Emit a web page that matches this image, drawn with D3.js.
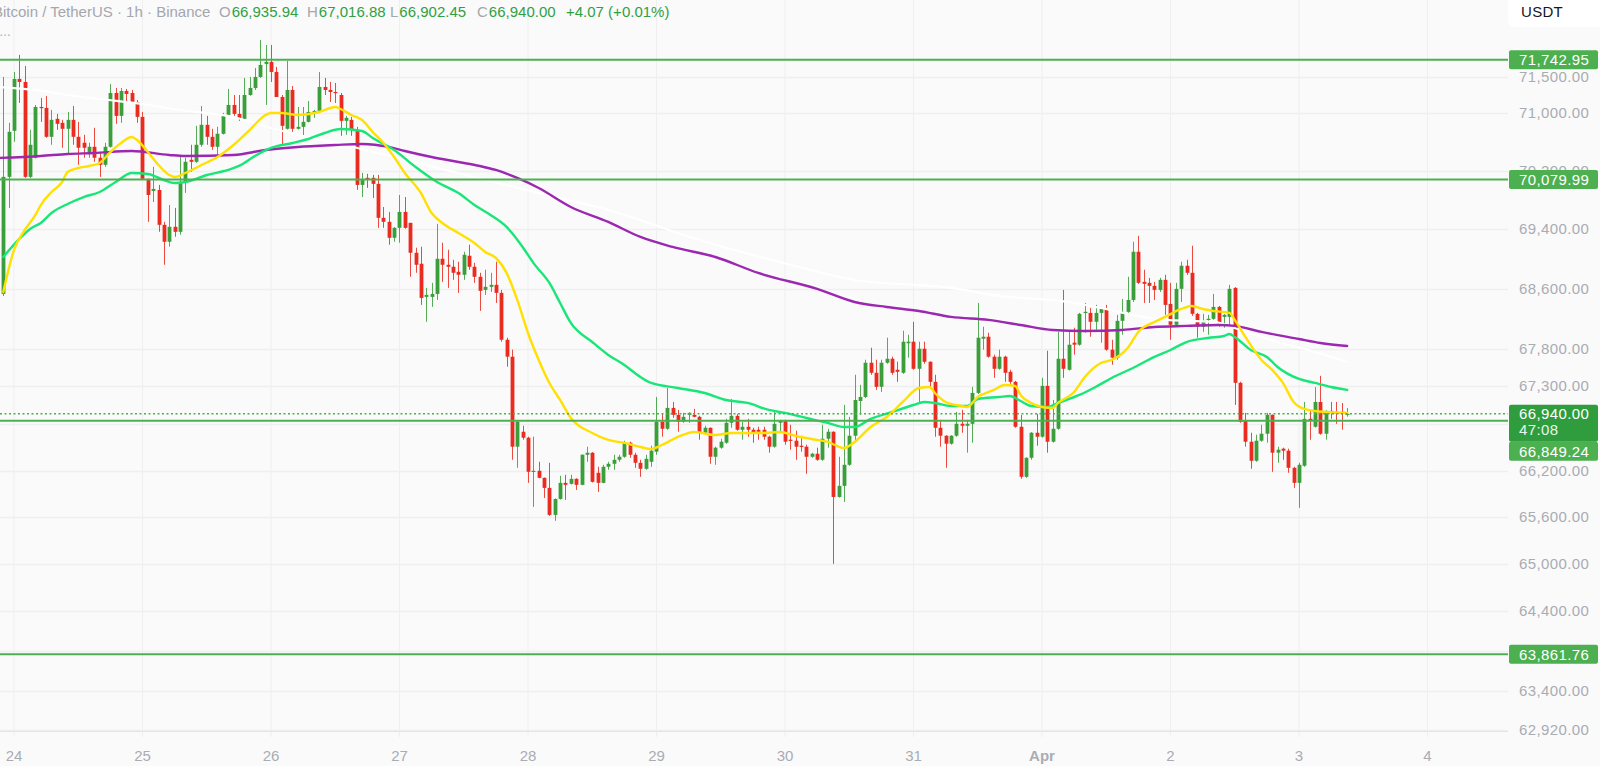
<!DOCTYPE html>
<html><head><meta charset="utf-8">
<script src="https://cdn.jsdelivr.net/npm/d3@7"></script>
<style>
html,body{margin:0;padding:0;background:#fafafa;overflow:hidden}
svg{display:block;font-family:"Liberation Sans",Arial,sans-serif}
</style></head><body>
<svg id="c" width="1600" height="766"></svg>
<script>
// ---- DATA ----
// hourly candles, first candle opens 2024-03-23 22:00 UTC
const firstCandle = Date.UTC(2024, 2, 23, 22);
const opens = [
68529,70117,70752,71474,71432,70117,70380,71083,71070,70669,
70918,70863,70780,70904,70669,70587,70449,70531,70380,70283,
70531,71278,70959,71306,71278,71152,70945,70090,69924,69938,
69462,69232,69435,69367,70048,70352,70324,70559,70835,70669,
70531,70711,70973,71111,70987,70918,71250,71348,71502,71684,
71713,71572,71222,70780,71320,70780,70807,70876,71000,71028,
71362,71320,71292,71250,70890,70904,70766,70007,70104,70104,
70021,69557,69503,69286,69421,69638,69489,69083,68935,68489,
68489,68529,69002,68921,68894,68826,68786,69043,68894,68759,
68583,68624,68651,68543,67917,67692,66510,66705,66627,66184,
66197,66106,65976,65628,65833,66041,66028,66093,66015,66405,
66431,66171,66041,66249,66288,66340,66379,66562,66405,66301,
66223,66314,66445,66835,66744,67017,66926,66835,66926,66926,
66900,66692,66757,66379,66497,66562,66822,66913,66731,66770,
66731,66731,66731,66640,66510,66822,66848,66601,66588,66523,
66510,66379,66418,66340,66614,66705,65859,66002,66275,66653,
67108,67161,67612,67479,67294,67612,67665,67519,67479,67870,
67891,67532,67798,67625,67360,66757,66653,66549,66653,66809,
66783,66809,67214,67931,67957,67692,67532,67692,67492,67360,
66770,66119,66366,66692,66640,67307,66575,66744,67665,67519,
67878,67851,68275,68275,68156,68275,68328,67785,67679,68169,
68289,68448,69097,68691,68678,68637,68583,68718,68395,68116,
68597,68908,68813,68262,68090,68182,68196,68355,68222,68222,
68610,67347,66848,66575,66327,66588,66679,66926,66432,66484,
66458,66236,66041,66262,66874,66770,67095,66679,66978,66965,
66965,66935.94];
const highs = [
71502,70863,71572,71811,71656,70766,71111,71208,71236,71042,
70987,70904,71014,71097,70876,70697,70587,70794,70462,70587,
71404,71348,71348,71334,71320,71180,71014,70090,70255,70007,
69503,69732,69692,70393,70380,70559,70821,71097,70959,70780,
70807,71001,71334,71250,71250,71488,71502,71628,72021,71951,
71951,71642,71250,71727,71376,71083,71083,71166,71042,71572,
71488,71432,71418,71278,70959,70945,70807,70173,70159,70145,
70145,69705,69638,69430,69869,69841,69489,69151,69165,68610,
68678,69476,69219,69124,68989,68962,69097,69192,68948,68813,
68854,68813,68962,68583,67944,67785,66850,66783,66640,66640,
66314,66110,66301,65840,66132,66145,66145,66100,66410,66510,
66440,66249,66275,66314,66405,66405,66588,66575,66431,66340,
66405,66523,67161,66939,67280,67095,66991,66952,66960,67004,
66913,66783,66760,66510,66614,66874,67134,66939,66835,66874,
66757,66770,66770,66653,66978,66861,66861,66796,66718,66653,
66536,66431,66497,66796,66744,66710,66379,67056,66900,67453,
67320,67652,67811,67652,67652,67944,67692,67626,68037,67984,
68156,67891,67891,67630,67453,66861,66660,66660,66965,66991,
66861,67294,68408,68090,68010,67719,67785,67705,67519,67373,
66926,66370,66700,66939,67413,67771,67121,68023,68583,68023,
68077,68275,68408,68341,68382,68355,68382,67917,68249,68462,
68759,69232,69313,68854,68745,68691,68745,68786,68678,68678,
68962,68989,69178,68275,68262,68249,68529,68368,68260,68651,
68620,67360,66952,66692,66666,66796,66952,66930,66510,66497,
66484,66249,66301,67095,66991,67290,67439,66985,67095,67095,
67082,67016.88];
const lows = [
68500,69692,70600,71139,70104,70100,70370,70876,70656,70559,
70766,70518,70421,70559,70283,70380,70380,70324,70117,70255,
70520,70849,70863,71139,71139,70863,70076,69503,69773,69367,
68921,69165,69300,69327,69897,70186,70311,70531,70559,70490,
70421,70700,70959,70959,70890,70904,71240,71320,71488,71111,
71432,71222,70559,70770,70738,70770,70669,70870,70932,71020,
71250,71152,71139,70683,70697,70683,69938,69841,69966,69828,
69421,69421,69192,69232,69219,69410,68759,68813,68382,68156,
68355,68448,68691,68610,68718,68543,68718,68853,68678,68302,
68516,68556,68408,67891,67559,66340,66236,66601,66041,65731,
66100,65846,65615,65552,65825,65820,66020,65950,66010,66314,
66045,65924,66035,66210,66210,66314,66366,66366,66236,66119,
66210,66249,66405,66640,66731,66887,66705,66822,66822,66895,
66601,66666,66288,66275,66484,66549,66757,66718,66601,66640,
66562,66601,66601,66432,66497,66705,66536,66471,66340,66445,
66158,66366,66327,66327,66497,65002,65850,65794,66262,66588,
66926,67147,67453,67254,67227,67599,67453,67360,67466,67679,
67519,67082,67599,67294,66640,66510,66236,66536,66640,66692,
66432,66562,67200,67785,67679,67413,67519,67360,67334,66757,
66093,66106,66340,66523,66627,66432,66562,66731,67413,67510,
67719,67838,68010,67957,68050,67877,67771,67586,67652,67984,
68275,68421,68664,68408,68408,68448,68556,68249,67917,68103,
68421,68786,68235,67944,68023,67984,68182,68090,68077,68090,
67056,66822,66510,66223,66314,66575,66562,66184,66301,66340,
66171,65976,65718,66249,66601,66760,66666,66601,66874,66809,
66731,66902.45];
const closes = [
70117,70738,71474,71432,70117,70559,71083,71070,70669,70904,
70849,70780,70904,70669,70518,70518,70531,70380,70283,70531,
71278,70959,71306,71264,71152,70945,70090,69869,69952,69462,
69232,69435,69367,70048,70324,70324,70559,70835,70669,70531,
70711,70973,71111,70987,70918,71250,71348,71502,71670,71713,
71572,71222,70821,71320,70780,70807,70876,71014,71028,71362,
71320,71292,71278,70890,70932,70766,70007,70076,70090,70021,
69557,69503,69286,69421,69638,69421,69083,68921,68475,68516,
68529,69002,68921,68894,68813,68786,69056,68894,68759,68570,
68624,68651,68543,67917,67692,66510,66835,66627,66184,66197,
66106,65976,65628,65833,66041,66015,66093,66015,66405,66431,
66054,66041,66249,66288,66340,66379,66562,66405,66301,66223,
66353,66458,66835,66744,67017,66926,66835,66900,66952,66900,
66692,66757,66379,66497,66575,66822,66913,66731,66770,66731,
66679,66705,66640,66510,66809,66848,66575,66588,66510,66510,
66379,66418,66340,66614,66705,65859,66002,66275,66653,67121,
67161,67612,67479,67294,67612,67665,67479,67492,67891,67891,
67532,67798,67625,67360,66757,66653,66549,66653,66809,66783,
66809,67214,67944,67957,67692,67532,67692,67479,67360,66770,
66119,66366,66692,66640,67307,66575,66744,67665,67532,67851,
67851,68262,68289,68156,68275,68328,67785,67679,68169,68289,
68448,69097,68678,68664,68637,68583,68718,68382,68116,68597,
68908,68813,68262,68090,68169,68196,68355,68103,68249,68597,
67347,66835,66575,66327,66588,66679,66926,66432,66471,66458,
66236,66041,66275,66874,66861,67095,66679,66978,66952,66939,
66936,66940.00];

// moving averages: hours after 2024-03-24 00:00 UTC and values
const ma1Hours = [-2,0,2,4,5,7,9,10,12,14,16,18,20,22,23,25,27,29,30,32,35,38,41,44,47,48,50,53,57,60,61,63,65,67,69,71,73,76,78,80,83,86,88,90,92,94,96,98,100,102,104,108,111,114,117,119,121,124,127,131,134,140,143,146,149,152,155,157,160,163,166,169,171,172,174,177,178,180,183,185,187,188,190,192,194,195,198,200,203,205,208,210,213,215,218,220,222,224,227,228,230,233,235,237,239,241,243,245,249];
const ma1Values = [68555,69121,69392,69596,69732,69910,70047,70184,70239,70267,70308,70459,70584,70666,70625,70459,70280,70143,70115,70170,70280,70390,70556,70763,70971,70999,70999,70971,71013,71083,71055,70971,70902,70735,70584,70390,70170,69896,69623,69487,69351,69216,69094,69013,68811,68448,68007,67649,67345,67121,66885,66689,66598,66559,66506,66480,66532,66637,66702,66663,66689,66689,66702,66650,66611,66572,66493,66572,66767,66898,67095,67279,67292,67213,67095,67042,67029,67160,67253,67318,67305,67187,67082,67029,67016,67082,67226,67424,67609,67649,67808,68021,68154,68221,68327,68367,68327,68301,68274,68181,67954,67649,67517,67345,67095,67003,66977,66964,66951];
const ma2Hours = [-2,1,3,5,7,10,13,16,19,22,25,28,30,32,36,40,42,45,48,52,55,58,61,65,67,71,75,79,83,86,89,92,95,97,100,102,104,108,111,114,117,119,124,129,133,137,141,144,148,152,155,157,160,164,168,170,172,175,178,180,184,186,188,190,193,195,199,202,205,209,213,216,219,223,226,227,228,231,234,236,240,243,246,249];
const ma2Values = [69026,69270,69406,69487,69623,69746,69841,69910,70047,70170,70157,70074,70033,70047,70143,70212,70267,70404,70515,70584,70639,70722,70777,70749,70653,70487,70253,70047,69896,69732,69596,69433,69162,68946,68676,68408,68141,67887,67715,67583,67424,67345,67279,67213,67121,67082,66990,66951,66885,66820,66767,66767,66872,66964,67055,67095,67082,67042,67042,67134,67160,67174,67108,67042,67029,67082,67187,67292,67411,67543,67689,67781,67887,67941,67967,67994,67954,67781,67689,67556,67398,67345,67292,67253];
const ma3Hours = [-3,5,10,15,22,29,32,41,47,53,60,65,70,73,78,83,87,90,94,98,104,111,117,123,131,139,150,157,163,169,175,182,188,194,200,207,213,219,225,228,233,240,244,249];
const ma3Values = [70377,70404,70432,70446,70473,70418,70404,70418,70487,70529,70556,70570,70529,70473,70390,70322,70267,70212,70102,69964,69705,69501,69297,69162,69026,68811,68596,68421,68354,68301,68221,68181,68114,68047,68034,68047,68087,68101,68114,68101,68021,67927,67874,67834];
const ma4Hours = [-3,4,10,16,24,31,41,48,54,61,73,86,98,111,128,143,157,175,184,197,203,209,215,224,230,236,243,249];
const ma4Values = [71362,71320,71250,71194,71124,71041,70943,70791,70680,70570,70349,70115,69896,69664,69256,68959,68716,68609,68502,68421,68341,68248,68181,68154,68021,67887,67755,67622];

const tickDays = [24,25,26,27,28,29,30,31,32,33,34,35]; // March day numbers (32 = Apr 1)
const tickLabels = ["24","25","26","27","28","29","30","31","Apr","2","3","4"];
const priceTicks = [71500,71000,70200,69400,68600,67800,67300,66800,66200,65600,65000,64400,63900,63400,62920];
const hiddenPriceLabels = [66800,63900]; // covered by the price boxes
const levels = [71742.95, 70079.99, 66849.24, 63861.76];
const countdown = "47:08";
const symbolText = "Bitcoin / TetherUS · 1h · Binance";
const legendChange = 4.07, legendChangePct = 0.01;
const quote = "USDT";

// ---- LAYOUT ----
const W = 1600, H = 766, plotR = 1508, plotB = 731;
const H0 = Date.UTC(2024, 2, 24);
const hr = 3600e3;
const x = d3.scaleUtc()
  .domain([new Date(H0 - 2.615 * hr), new Date(H0 + 279.04 * hr)])
  .range([0, plotR]);
const y = d3.scaleLog().domain([62910, 72587]).range([plotB, 0]);

const C_UP = "#3a9f3a", C_DN = "#ea2b1f", C_LVL = "#4caf50", C_CUR = "#2f9d3e";
const C_GRID = "#efefef", C_TXT = "#a9acb3";
const fmt = d3.format(",.2f");

const svg = d3.select("#c");
svg.append("rect").attr("width", W).attr("height", H).attr("fill", "#fafafa");
svg.append("defs").append("clipPath").attr("id", "plot")
  .append("rect").attr("x", 0).attr("y", 0).attr("width", plotR).attr("height", plotB);

// grid
const tickDates = tickDays.map(d => new Date(Date.UTC(2024, 2, d)));
const grid = svg.append("g");
grid.selectAll("line.v").data(tickDates).join("line")
  .attr("x1", d => x(d)).attr("x2", d => x(d)).attr("y1", 0).attr("y2", plotB + 6)
  .attr("stroke", C_GRID).attr("stroke-width", 1);
grid.selectAll("line.h").data(priceTicks).join("line")
  .attr("x1", 0).attr("x2", plotR).attr("y1", d => Math.round(y(d)) + 0.5).attr("y2", d => Math.round(y(d)) + 0.5)
  .attr("stroke", C_GRID).attr("stroke-width", 1.5);

svg.append("line").attr("x1", 0).attr("x2", plotR).attr("y1", plotB + 0.5).attr("y2", plotB + 0.5)
  .attr("stroke", "#e4e4e4");

// time axis labels
svg.append("g").selectAll("text").data(tickDates).join("text")
  .attr("x", d => x(d)).attr("y", 761).attr("text-anchor", "middle")
  .attr("font-size", 15).attr("fill", C_TXT)
  .attr("font-weight", (d, i) => tickLabels[i] === "Apr" ? 700 : 400)
  .text((d, i) => tickLabels[i]);

// candles
const candles = opens.map((o, i) => ({
  t: new Date(firstCandle + i * hr), o, h: highs[i], l: lows[i], c: closes[i]
}));
const plot = svg.append("g").attr("clip-path", "url(#plot)");
const cg = plot.append("g");
cg.selectAll("line.w").data(candles).join("line")
  .attr("x1", d => Math.round(x(d.t)) + 0.5).attr("x2", d => Math.round(x(d.t)) + 0.5)
  .attr("y1", d => y(d.h)).attr("y2", d => y(d.l))
  .attr("stroke", d => d.c >= d.o ? C_UP : C_DN).attr("stroke-width", 1).attr("opacity", 0.85);
const bw = 3.8;
cg.selectAll("rect.b").data(candles).join("rect")
  .attr("x", d => Math.round(x(d.t)) + 0.5 - bw / 2)
  .attr("width", bw)
  .attr("y", d => y(Math.max(d.o, d.c)))
  .attr("height", d => Math.max(1.2, Math.abs(y(d.o) - y(d.c))))
  .attr("fill", d => d.c >= d.o ? C_UP : C_DN);

// moving averages
function maLine(hours, values, color, w) {
  const pts = hours.map((h, i) => [new Date(H0 + h * hr), values[i]]);
  plot.append("path").datum(pts)
    .attr("fill", "none").attr("stroke", color).attr("stroke-width", w)
    .attr("stroke-linejoin", "round").attr("stroke-linecap", "round")
    .attr("d", d3.line().x(d => x(d[0])).y(d => y(d[1])).curve(d3.curveMonotoneX));
}
maLine(ma4Hours, ma4Values, "#ffffff", 2.2);
maLine(ma3Hours, ma3Values, "#9c27b0", 2.4);
maLine(ma2Hours, ma2Values, "#19e678", 2.4);
maLine(ma1Hours, ma1Values, "#ffe000", 2.4);

// price axis labels
svg.append("g").selectAll("text").data(priceTicks.filter(v => !hiddenPriceLabels.includes(v))).join("text")
  .attr("x", 1519).attr("y", d => y(d) + 5)
  .attr("font-size", 15).attr("fill", C_TXT).attr("letter-spacing", 0.4)
  .text(d => fmt(d));

// horizontal levels
svg.append("g").selectAll("line").data(levels).join("line")
  .attr("x1", 0).attr("x2", plotR).attr("y1", d => y(d)).attr("y2", d => y(d))
  .attr("stroke", C_LVL).attr("stroke-width", 2);

// current price dotted line
const last = closes[closes.length - 1];
svg.append("line").attr("x1", 0).attr("x2", plotR)
  .attr("y1", y(last)).attr("y2", y(last))
  .attr("stroke", C_LVL).attr("stroke-width", 1.3).attr("stroke-dasharray", "2,2.5");

// level boxes
const yCur = y(last);
const boxes = levels.map(v => {
  let cy = y(v);
  if (Math.abs(cy - yCur) < 30) cy = yCur + 37.5;
  return { v, cy };
});
const bg = svg.append("g");
bg.selectAll("rect").data(boxes).join("rect")
  .attr("x", 1509).attr("y", d => d.cy - 9.5).attr("width", 89).attr("height", 19).attr("rx", 2)
  .attr("fill", C_LVL);
bg.selectAll("text").data(boxes).join("text")
  .attr("x", 1519).attr("y", d => d.cy + 5.3)
  .attr("font-size", 15).attr("fill", "#ffffff").attr("letter-spacing", 0.4)
  .text(d => fmt(d.v));

// current price box
svg.append("rect").attr("x", 1509).attr("y", yCur - 9).attr("width", 89).attr("height", 37).attr("rx", 2)
  .attr("fill", C_CUR);
svg.append("text").attr("x", 1519).attr("y", yCur + 5.3).attr("font-size", 15).attr("fill", "#fff")
  .attr("letter-spacing", 0.4).text(fmt(last));
svg.append("text").attr("x", 1519).attr("y", yCur + 21.5).attr("font-size", 15).attr("fill", "#e8f5e9")
  .attr("letter-spacing", 0.4).text(countdown);

// quote currency box
svg.append("rect").attr("x", 1508).attr("y", -6).attr("width", 100).attr("height", 33).attr("rx", 6)
  .attr("fill", "#ffffff");
svg.append("text").attr("x", 1521).attr("y", 17).attr("font-size", 15).attr("fill", "#131722")
  .attr("letter-spacing", 0.3).text(quote);

// header legend
const lo = opens[opens.length - 1], lh = highs[highs.length - 1], ll = lows[lows.length - 1];
const C_VAL = "#2fa143", C_HD = "#a4a7ae";
const hdr = svg.append("g").attr("font-size", 15);
hdr.append("text").attr("x", -7).attr("y", 17).attr("fill", C_HD).text(symbolText);
[["O", lo, 219], ["H", lh, 307], ["L", ll, 390], ["C", last, 477]].forEach(([k, v, px]) => {
  const t = hdr.append("text").attr("x", px).attr("y", 17);
  t.append("tspan").attr("fill", C_HD).text(k);
  t.append("tspan").attr("fill", C_VAL).attr("dx", 1).text(fmt(v));
});
hdr.append("text").attr("x", 566).attr("y", 17).attr("fill", C_VAL)
  .text("+" + d3.format(".2f")(legendChange) + " (+" + d3.format(".2f")(legendChangePct) + "%)");
hdr.append("text").attr("x", -1).attr("y", 36).attr("fill", C_HD).attr("font-size", 12).text("…");
</script>
</body></html>
